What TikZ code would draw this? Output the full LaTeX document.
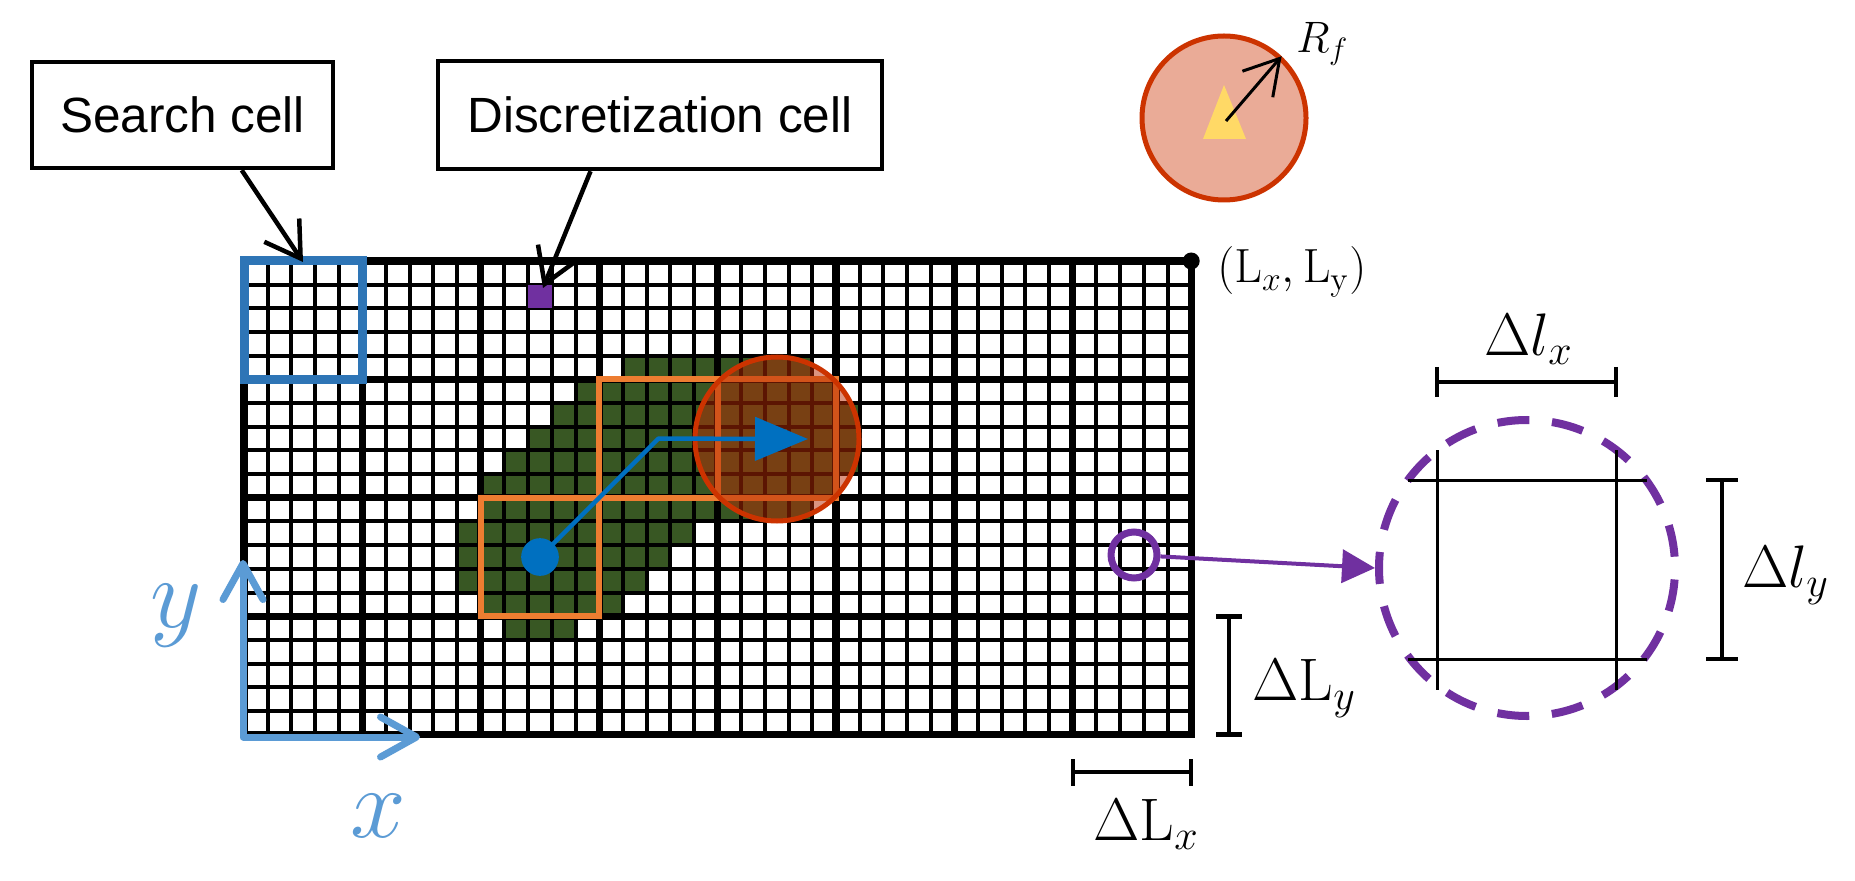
\documentclass[tikz,border=0pt]{standalone}
\usepackage{fix-cm}
\usepackage[no-math]{fontspec}
\usetikzlibrary{arrows.meta,calc}
\newfontfamily\arialf{Liberation Sans}
\definecolor{gridgreen}{HTML}{385723}
\definecolor{scblue}{HTML}{2E75B6}
\definecolor{pathblue}{HTML}{0070C0}
\definecolor{axisblue}{HTML}{5B9BD5}
\definecolor{dpurple}{HTML}{7030A0}
\definecolor{sorange}{HTML}{ED7D31}
\definecolor{fred}{HTML}{CC3300}
\definecolor{fsalmon}{HTML}{EAAB97}
\definecolor{fyellow}{HTML}{FFD966}
\definecolor{ftint}{RGB}{184,43,5}
\tikzset{
  labelbox/.style={draw, line width=2.25pt, inner sep=0pt, font=\arialf\fontsize{24.75}{28}\selectfont},
  callout/.style={line width=2.25pt, -{Straight Barb[length=17pt,width=21pt]}},
  fineline/.style={line width=2pt},
  coarseline/.style={line width=3.6pt, line cap=rect},
  sbox/.style={draw=sorange, line width=3pt},
  dimbar/.style={line width=2.4pt},
  biglabel/.style={inner sep=0pt, anchor=base west, font=\fontsize{30}{36}\selectfont},
}
\begin{document}
\begin{tikzpicture}[x=0.5pt,y=-0.5pt]
\useasboundingbox (0,0) rectangle (1855,881);
\fill[white] (0,0) rectangle (1855,881);

% green swath
\foreach \j/\a/\b in {4/16/23,5/14/24,6/13/25,7/12/25,8/11/25,9/10/24,10/10/23,11/9/18,12/9/17,13/9/16,14/10/15,15/11/13}
  \fill[gridgreen] ({244+\a*23.68},{261+\j*23.68}) rectangle ({244+(\b+1)*23.68},{261+(\j+1)*23.68});

% fine grid
\foreach \k in {1,...,39}
  \draw[fineline] ({244+\k*23.68},261) -- ({244+\k*23.68},734.6);
\foreach \k in {1,...,19}
  \draw[fineline] (244,{261+\k*23.68}) -- (1191.2,{261+\k*23.68});
% coarse grid
\foreach \k in {0,...,8}
  \draw[coarseline] ({244+\k*118.4},261) -- ({244+\k*118.4},734.6);
\foreach \k in {0,...,4}
  \draw[coarseline] (244,{261+\k*118.4}) -- (1191.2,{261+\k*118.4});

% discretization cell
\fill[dpurple] (528.2,284.7) rectangle (551.8,308.4);

% orange search cells
\draw[sbox] (480.8,497.8) rectangle (599.2,616.2);
\draw[sbox] (599.2,379.4) rectangle (717.6,497.8);
\draw[sbox] (717.6,379.4) rectangle (836,497.8);

% blue search cell
\draw[scblue, line width=4.5pt] (244,261) rectangle (362.4,379.4);

% translucent fire circle
\fill[ftint, fill opacity=0.5] (777,439) circle[radius=82];
\draw[fred, line width=2.5pt] (777,439) circle[radius=82];

% blue path
\node[circle, fill=pathblue, inner sep=0pt, minimum size=18.85pt] (dot) at (540,557) {};
\coordinate (bend) at (658.4,438.6);
\coordinate (ptip) at (808,439);
\draw[pathblue, line width=2.25pt, line join=round, -{Triangle[length=26.5pt,width=21.5pt]}] (dot.center) -- (bend) -- (ptip);

% corner point
\fill (1191.2,261) circle[radius=8.5];
\node[inner sep=0pt, anchor=base west, font=\fontsize{24}{28}\selectfont] (lxly) at (1217,283) {$(\mathrm{L}_x, \mathrm{L}_\mathrm{y})$};

% axes
\coordinate (O) at (243,737);
\coordinate (yend) at (243,560);
\coordinate (xend) at (420,737);
\draw[axisblue, line width=3.5pt, line cap=round, line join=round,
  {Straight Barb[length=18pt,width=20pt,round]}-{Straight Barb[length=18pt,width=20pt,round]}] (yend) -- (O) -- (xend);
\node[axisblue, inner sep=0pt, anchor=base west, font=\fontsize{50}{56}\selectfont] (ylab) at (150,627) {$y$};
\node[axisblue, inner sep=0pt, anchor=base west, font=\fontsize{50}{56}\selectfont] (xlab) at (350,837) {$x$};

% callout boxes
\node[labelbox, minimum width=150.5pt, minimum height=53pt] (search) at (182.5,115) {Search cell};
\node[labelbox, minimum width=222pt, minimum height=54pt] (disc) at (660,115) {Discretization cell};
\coordinate (sctop) at (303,262);
\coordinate (dctop) at (543,288);
\draw[callout] (search.-43) -- (sctop);
\draw[callout] (disc.219) -- (dctop);

% R_f circle
\node[circle, draw=fred, fill=fsalmon, line width=2.5pt, minimum size=82pt, inner sep=0pt] (rf) at (1224,118) {};
\fill[fyellow] (1224,85) -- (1246,139) -- (1203,139) -- cycle;
\coordinate (tri) at (1226,121);
\draw[line width=1.5pt, -{Straight Barb[length=17pt,width=20pt]}] (tri) -- (rf.47);
\node[inner sep=0pt, anchor=base west, font=\fontsize{22}{26}\selectfont] (rflab) at (1296,53) {$R_f$};

% coarse cell dimensions
\draw[dimbar] (1073,772) -- (1191,772);
\draw[dimbar] (1073,759) -- (1073,786);
\draw[dimbar] (1191,759) -- (1191,786);
\node[biglabel] (dLx) at (1093,840) {$\Delta\mathrm{L}_x$};
\draw[dimbar] (1229,616.2) -- (1229,734.6);
\draw[dimbar] (1216,616.2) -- (1242,616.2);
\draw[dimbar] (1216,734.6) -- (1242,734.6);
\node[biglabel] (dLy) at (1252,700) {$\Delta\mathrm{L}_y$};

% zoomed discretization cell
\node[circle, draw=dpurple, line width=3.5pt, minimum size=23pt, inner sep=0pt] (pc) at (1134,555) {};
\node[circle, draw=dpurple, line width=4pt, dash pattern=on 16pt off 11.35pt, dash phase=21.68pt, minimum size=148pt, inner sep=0pt] (zc) at (1527,568) {};
\draw[dpurple, line width=2pt, -{Triangle[length=16.5pt,width=16.5pt]}] (pc) -- (zc.west);
\draw[line width=1.5pt] (1437,450) -- (1437,690);
\draw[line width=1.5pt] (1616,450) -- (1616,690);
\draw[line width=1.5pt] (1408,480) -- (1647,480);
\draw[line width=1.5pt] (1408,659) -- (1647,659);

% fine cell dimensions
\draw[dimbar] (1437,382) -- (1616,382);
\draw[dimbar] (1437,367) -- (1437,397);
\draw[dimbar] (1616,367) -- (1616,397);
\node[biglabel] (dlx) at (1484,356) {$\Delta l_x$};
\draw[dimbar] (1722,480) -- (1722,659);
\draw[dimbar] (1706,480) -- (1738,480);
\draw[dimbar] (1706,659) -- (1738,659);
\node[biglabel] (dly) at (1742,587) {$\Delta l_y$};
\end{tikzpicture}
\end{document}
